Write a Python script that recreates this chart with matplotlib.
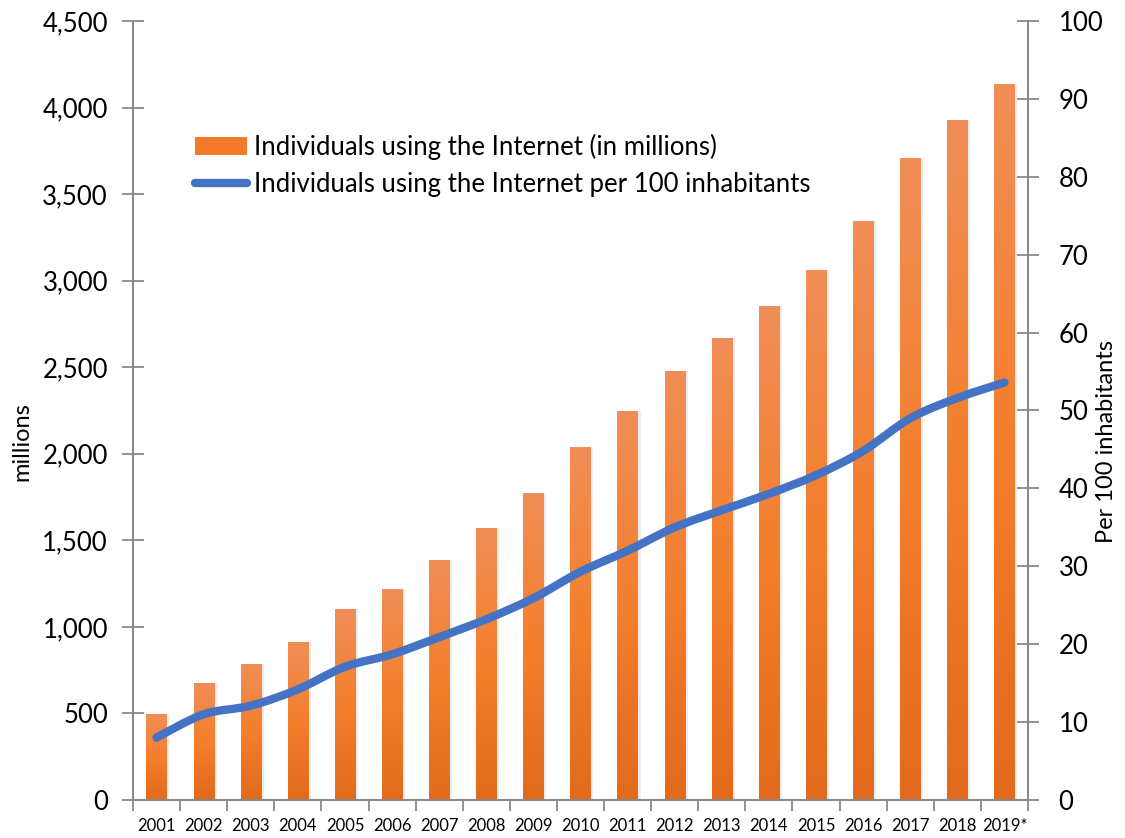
import numpy as np
import matplotlib
matplotlib.use('Agg')
import matplotlib.pyplot as plt
from matplotlib.path import Path
from matplotlib.patches import PathPatch, Patch
from matplotlib.lines import Line2D
from matplotlib.colors import LinearSegmentedColormap
from matplotlib.ticker import FuncFormatter, MultipleLocator

years = ['2001', '2002', '2003', '2004', '2005', '2006', '2007', '2008', '2009', '2010',
         '2011', '2012', '2013', '2014', '2015', '2016', '2017', '2018', '2019*']
users_millions = [495, 677, 786, 913, 1103, 1219, 1386, 1571, 1773, 2039,
                  2247, 2478, 2669, 2854, 3062, 3345, 3709, 3928, 4136]
per_100 = [8.0, 11.0, 12.1, 14.2, 17.1, 18.7, 20.9, 23.2, 25.9, 29.3,
           32.0, 35.0, 37.2, 39.3, 41.7, 44.8, 49.0, 51.6, 53.6]

plt.rcParams['font.family'] = ['Lato', 'DejaVu Sans']
grey = '#898989'
blue = '#4472C4'

fig = plt.figure(figsize=(11.25, 8.38), dpi=100)
ax = fig.add_axes([0.1182, 0.0454, 0.7956, 0.9295])
ax2 = ax.twinx()

x = np.arange(len(years))
w = 0.43

# bars with a vertical gradient (lighter at the top)
cmap = LinearSegmentedColormap.from_list('bar', ['#E36A1C', '#F47F2C', '#F08E58'])
grad = np.linspace(0, 1, 256).reshape(-1, 1)
for xi, h in zip(x, users_millions):
    ax.bar(xi + 0.06, h, w, color='#000000', alpha=0.07, zorder=1, linewidth=0)
    b = ax.bar(xi, h, w, color='none', linewidth=0, zorder=2)[0]
    im = ax.imshow(grad, extent=[xi - w / 2, xi + w / 2, 0, h], origin='lower',
                   aspect='auto', cmap=cmap, zorder=2)
    im.set_clip_path(b)

ax.set_xlim(-0.5, len(years) - 0.5)
ax.set_ylim(0, 4500)
ax.yaxis.set_major_locator(MultipleLocator(500))
ax.yaxis.set_major_formatter(FuncFormatter(lambda v, p: f'{int(v):,}'))
ax.set_xticks(x)
ax.set_xticklabels(years, fontsize=12)
ax.set_xticks(np.arange(-0.5, len(years)), minor=True)
ax.tick_params(axis='x', which='major', length=0, pad=13)
ax.tick_params(axis='x', which='minor', length=8, width=1.3, color=grey, direction='out')
ax.tick_params(axis='y', labelsize=18.5, length=16, width=1.3, color=grey,
               direction='inout', pad=10)
ax.set_ylabel('millions', fontsize=17)
ax.yaxis.set_label_coords(-0.112, 0.46)

for a in (ax, ax2):
    a.spines['top'].set_visible(False)
    for s in ('left', 'right', 'bottom'):
        a.spines[s].set_color(grey)
        a.spines[s].set_linewidth(1.3)

# smoothed line (Bezier curve through the data points)
ax2.set_ylim(0, 100)
ax2.yaxis.set_major_locator(MultipleLocator(10))
ax2.tick_params(axis='y', labelsize=18.5, length=16, width=1.3, color=grey,
                direction='inout', pad=14)
ax2.set_ylabel('Per 100 inhabitants', fontsize=17)
ax2.yaxis.set_label_coords(1.076, 0.46)

pts = np.column_stack([x, per_100]).astype(float)
verts = [pts[0]]
codes = [Path.MOVETO]
n = len(pts)
for i in range(n - 1):
    p0 = pts[max(i - 1, 0)]
    p1 = pts[i]
    p2 = pts[i + 1]
    p3 = pts[min(i + 2, n - 1)]
    c1 = p1 + (p2 - p0) / 6
    c2 = p2 - (p3 - p1) / 6
    verts += [c1, c2, p2]
    codes += [Path.CURVE4] * 3
curve = PathPatch(Path(verts, codes), facecolor='none', edgecolor=blue,
                  linewidth=6, capstyle='round', joinstyle='round', zorder=5)
ax2.add_patch(curve)

handles = [Patch(facecolor='#F27A2A', edgecolor='none'),
           Line2D([0], [0], color=blue, linewidth=6, solid_capstyle='round')]
labels = ['Individuals using the Internet (in millions)',
          'Individuals using the Internet per 100 inhabitants']
fig.legend(handles, labels, loc='upper left', bbox_to_anchor=(0.1645, 0.852),
           frameon=False, fontsize=18.5, handlelength=2.0, handletextpad=0.3,
           labelspacing=0.45, borderaxespad=0)

fig.savefig('out.png', dpi=100)
